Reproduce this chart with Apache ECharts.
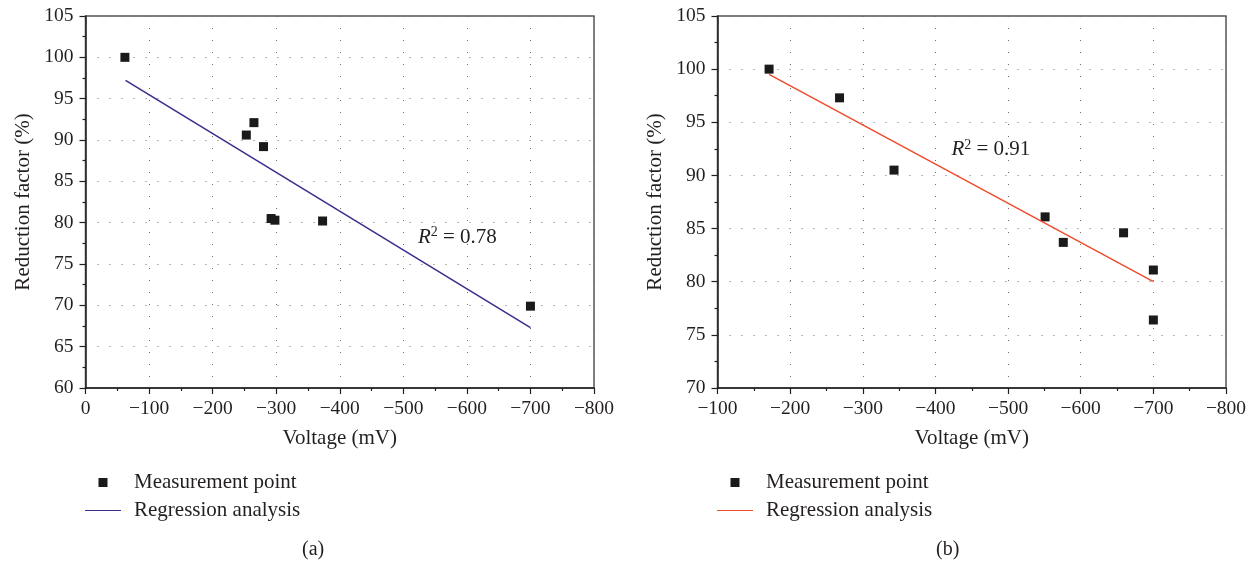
<!DOCTYPE html>
<html>
<head>
<meta charset="utf-8">
<script src="https://cdn.jsdelivr.net/npm/echarts@6/dist/echarts.min.js"></script>
<style>html,body{margin:0;padding:0;background:#fff;}#c{width:1256px;height:561px;}</style>
</head>
<body>
<div id="c"></div>
<script>
// ---- data (a) ----
const aVoltage = [-62, -253, -265, -280, -292, -298, -373, -700];
const aReduction = [100, 90.6, 92.1, 89.2, 80.5, 80.3, 80.2, 69.9];
const aRegVoltage = [-63, -700];
const aRegReduction = [97.2, 67.3];
const aR2 = '0.78';
const aR2At = [-523, 78.2];
// ---- data (b) ----
const bVoltage = [-171, -268, -343, -551, -576, -659, -700, -700];
const bReduction = [100, 97.3, 90.5, 86.1, 83.7, 84.6, 81.1, 76.4];
const bRegVoltage = [-171, -700];
const bRegReduction = [99.5, 80.0];
const bR2 = '0.91';
const bR2At = [-422, 92.4];
// ---- axes ----
const aXRange = [-800, 0];
const aYRange = [60, 105];
const bXRange = [-800, -100];
const bYRange = [70, 105];
const xInterval = 100, yInterval = 5;
const labels = ['Measurement point', 'Regression analysis'];
const panelTags = ['(a)', '(b)'];

const FONT = 'Liberation Serif';
const TXT = '#231f20';
const pairs = (xs, ys) => xs.map((x, i) => [x, ys[i]]);
const fmtX = v => v === 0 ? '0' : (v < 0 ? '\u2212' + Math.abs(v) : String(v));

function xAxis(gi, range) {
  return {
    type: 'value', gridIndex: gi, min: range[0], max: range[1], interval: xInterval, inverse: true,
    name: 'Voltage (mV)', nameLocation: 'middle', nameGap: 40,
    nameTextStyle: {fontFamily: FONT, fontSize: 21, color: TXT},
    axisLine: {onZero: false, lineStyle: {color: '#231f20', width: 1.5}},
    axisTick: {show: true, length: 6, lineStyle: {color: '#231f20', width: 1.2}},
    minorTick: {show: true, splitNumber: 2, length: 3, lineStyle: {color: '#231f20', width: 1.2}},
    axisLabel: {fontFamily: FONT, fontSize: 19.5, color: TXT, margin: 11, formatter: fmtX},
    splitLine: {show: true, lineStyle: {color: '#6d6d6d', width: 1, type: [1, 11]}}
  };
}
function yAxis(gi, range) {
  return {
    type: 'value', gridIndex: gi, min: range[0], max: range[1], interval: yInterval,
    name: 'Reduction factor (%)', nameLocation: 'middle', nameGap: 52, nameRotate: 90,
    nameTextStyle: {fontFamily: FONT, fontSize: 21, color: TXT},
    axisLine: {onZero: false, lineStyle: {color: '#231f20', width: 1.5}},
    axisTick: {show: true, length: 6, lineStyle: {color: '#231f20', width: 1.2}},
    minorTick: {show: true, splitNumber: 2, length: 3, lineStyle: {color: '#231f20', width: 1.2}},
    axisLabel: {fontFamily: FONT, fontSize: 19.5, color: TXT, margin: 12},
    splitLine: {show: true, lineStyle: {color: '#6d6d6d', width: 1, type: [1, 11]}}
  };
}
function r2Series(gi, at, val) {
  return {
    type: 'scatter', xAxisIndex: gi, yAxisIndex: gi, symbolSize: 0, silent: true,
    itemStyle: {opacity: 1},
    data: [at],
    label: {
      show: true, position: 'inside', align: 'left', verticalAlign: 'middle',
      formatter: '{i|R}{s|2}{n| = ' + val + '}',
      rich: {
        i: {fontFamily: FONT, fontStyle: 'italic', fontSize: 21, color: TXT},
        s: {fontFamily: FONT, fontSize: 14, color: TXT, padding: [0, 0, 10, 0]},
        n: {fontFamily: FONT, fontSize: 21, color: TXT}
      }
    }
  };
}
function legend(left, suffix) {
  return {
    orient: 'vertical', left: left, top: 467, itemGap: 7, itemWidth: 36, itemHeight: 9,
    symbolKeepAspect: true, selectedMode: false,
    textStyle: {fontFamily: FONT, fontSize: 21, color: TXT, lineHeight: 20, padding: [0, 0, 0, 8]},
    formatter: n => n.replace(/ \([ab]\)$/, ''),
    data: [
      {name: labels[0] + suffix, icon: 'path://M0,0H10V10H0Z'},
      {name: labels[1] + suffix, icon: 'path://M0,0H100V3H0Z'}
    ]
  };
}

const chart = echarts.init(document.getElementById('c'), null, {renderer: 'canvas'});
chart.setOption({
  backgroundColor: '#ffffff',
  animation: false,
  title: [
    {text: panelTags[0], left: 297, top: 535, textStyle: {fontFamily: FONT, fontSize: 20, fontWeight: 'normal', color: TXT}},
    {text: panelTags[1], left: 931, top: 535, textStyle: {fontFamily: FONT, fontSize: 20, fontWeight: 'normal', color: TXT}}
  ],
  grid: [
    {left: 85.5, top: 16, width: 508.5, height: 372, show: true, borderColor: '#555', borderWidth: 1.5},
    {left: 717.5, top: 16, width: 508.5, height: 372, show: true, borderColor: '#555', borderWidth: 1.5}
  ],
  xAxis: [xAxis(0, aXRange), xAxis(1, bXRange)],
  yAxis: [yAxis(0, aYRange), yAxis(1, bYRange)],
  legend: [legend(80, ' (a)'), legend(712, ' (b)')],
  series: [
    {name: labels[1] + ' (a)', type: 'line', xAxisIndex: 0, yAxisIndex: 0, showSymbol: false, symbol: 'none',
     color: '#3f2a8c', lineStyle: {color: '#3f2a8c', width: 1.5}, data: pairs(aRegVoltage, aRegReduction)},
    {name: labels[0] + ' (a)', type: 'scatter', xAxisIndex: 0, yAxisIndex: 0, symbol: 'rect', symbolSize: 9,
     color: '#1a1a1a', itemStyle: {opacity: 1}, data: pairs(aVoltage, aReduction)},
    r2Series(0, aR2At, aR2),
    {name: labels[1] + ' (b)', type: 'line', xAxisIndex: 1, yAxisIndex: 1, showSymbol: false, symbol: 'none',
     color: '#f04b2c', lineStyle: {color: '#f04b2c', width: 1.5}, data: pairs(bRegVoltage, bRegReduction)},
    {name: labels[0] + ' (b)', type: 'scatter', xAxisIndex: 1, yAxisIndex: 1, symbol: 'rect', symbolSize: 9,
     color: '#1a1a1a', itemStyle: {opacity: 1}, data: pairs(bVoltage, bReduction)},
    r2Series(1, bR2At, bR2)
  ]
});
</script>
</body>
</html>
